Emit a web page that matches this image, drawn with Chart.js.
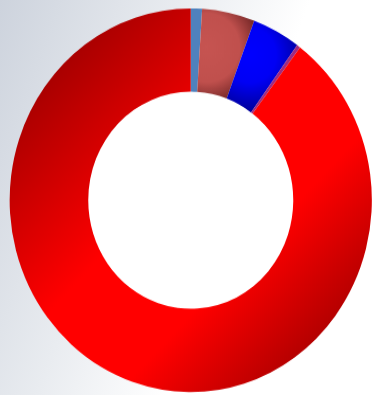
<!DOCTYPE html>
<html>
<head>
<meta charset="utf-8">
<script src="https://cdn.jsdelivr.net/npm/chart.js@4/dist/chart.umd.min.js"></script>
<style>
	html, body { margin: 0; padding: 0; }
	body {
		width: 374px; height: 395px; overflow: hidden;
		background: linear-gradient(110deg, #cdd3dd 0%, #e9ecf0 35%, #ffffff 60%);
	}
	/* the reference is slightly stretched vertically */
	#wrap { width: 374px; height: 373px; transform: scaleY(1.059); transform-origin: 0 0; }
</style>
</head>
<body>
<div id="wrap"><canvas id="myChart"></canvas></div>
<script>
	var labels = ["A", "B", "C", "D", "E"];
	var values = [1.0, 4.7, 4.3, 0.31, 89.69];
	var baseColors = ["#4f81bd", "#c0504d", "#0000ff", "#a02a80", "#ff0000"];

	function shade(context) {
		var chart = context.chart, area = chart.chartArea;
		var i = context.dataIndex;
		if (!area) return baseColors[i];
		var c = chart.ctx;
		var cx = (area.left + area.right) / 2, cy = (area.top + area.bottom) / 2;
		var r = Math.min(area.width, area.height) / 2;
		var g;
		if (i == 1) {
			g = c.createRadialGradient(cx + 0.09 * r, cy - 0.795 * r, 0, cx + 0.09 * r, cy - 0.795 * r, 0.30 * r);
			g.addColorStop(0, "#c65451");
			g.addColorStop(0.6, "#c0504d");
			g.addColorStop(1, "#702525");
			return g;
		}
		if (i == 2) {
			g = c.createRadialGradient(cx + 0.327 * r, cy - 0.756 * r, 0, cx + 0.327 * r, cy - 0.756 * r, 0.32 * r);
			g.addColorStop(0, "#0000ff");
			g.addColorStop(0.45, "#0000f5");
			g.addColorStop(1, "#00008a");
			return g;
		}
		if (i == 4) {
			g = c.createLinearGradient(area.left, area.top, area.right, area.bottom);
			g.addColorStop(0, "#800000");
			g.addColorStop(0.45, "#ff0000");
			g.addColorStop(0.65, "#ff0000");
			g.addColorStop(1, "#800000");
			return g;
		}
		return baseColors[i];
	}

	// the hole of the reference is plain white
	var whiteHole = {
		id: "whiteHole",
		beforeDatasetsDraw: function(chart) {
			var arc = chart.getDatasetMeta(0).data[0];
			if (!arc) return;
			var c = chart.ctx;
			c.save();
			c.fillStyle = "#ffffff";
			c.beginPath();
			c.arc(arc.x, arc.y, arc.innerRadius + 0.5, 0, Math.PI * 2);
			c.fill();
			c.restore();
		}
	};

	var ctx = document.getElementById("myChart").getContext("2d");
	var chart = new Chart(ctx, {
		type: "doughnut",
		data: {
			labels: labels,
			datasets: [{
				data: values,
				backgroundColor: shade,
				borderWidth: 0,
				hoverOffset: 0
			}]
		},
		options: {
			responsive: true,
			maintainAspectRatio: false,
			animation: false,
			events: [],
			cutout: "56.6%",
			layout: { padding: { left: 9.5, right: 2, top: 8, bottom: 2.8 } },
			plugins: {
				legend: { display: false },
				tooltip: { enabled: false }
			}
		},
		plugins: [whiteHole]
	});
</script>
</body>
</html>
